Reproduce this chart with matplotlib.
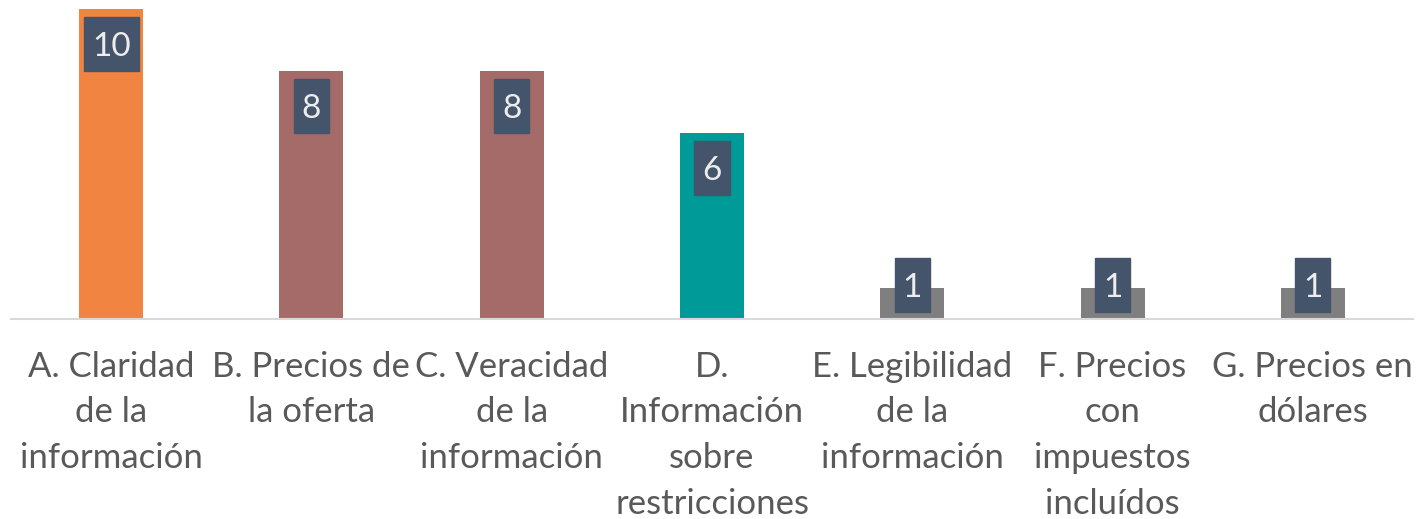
import matplotlib.pyplot as plt
from matplotlib.patches import Rectangle

categories = ['A. Claridad\nde la\ninformación',
              'B. Precios de\nla oferta',
              'C. Veracidad\nde la\ninformación',
              'D.\nInformación\nsobre\nrestricciones',
              'E. Legibilidad\nde la\ninformación',
              'F. Precios\ncon\nimpuestos\nincluídos',
              'G. Precios en\ndólares']
values = [10, 8, 8, 6, 1, 1, 1]
colors = ['#F28441', '#A56B69', '#A56B69', '#009A98', '#7F7F7F', '#7F7F7F', '#7F7F7F']

plt.rcParams['font.family'] = ['Lato', 'DejaVu Sans']

fig = plt.figure(figsize=(14.17, 5.19), dpi=100)
ax = fig.add_axes([11 / 1417, 200 / 519, 1402 / 1417, 310 / 519])

x = range(len(values))
ax.bar(x, values, width=0.32, color=colors, zorder=2)

# data labels: dark boxes near the top of each bar
px = 1 / 31.0  # one pixel in data units
for i, v in enumerate(values):
    s = str(v)
    w = 0.175 if len(s) == 1 else 0.275
    cy = max(v - 35 * px, 34 * px)
    ax.add_patch(Rectangle((i - w / 2, cy - 27 * px), w, 54 * px,
                           color='#44546A', zorder=3))
    ax.text(i, cy, s, ha='center', va='center_baseline', fontsize=24,
            color='#EDEDED', zorder=4)

ax.set_xlim(-0.5, len(values) - 0.5)
ax.set_ylim(0, 10)
ax.set_yticks([])
ax.set_xticks(list(x))
ax.set_xticklabels(categories, fontsize=25, color='#595959', linespacing=1.52)
ax.tick_params(axis='x', length=0, pad=23)
for side in ['top', 'right', 'left']:
    ax.spines[side].set_visible(False)
ax.spines['bottom'].set_color('#D9D9D9')
ax.spines['bottom'].set_linewidth(1.5)

fig.savefig('out.png', dpi=100)
